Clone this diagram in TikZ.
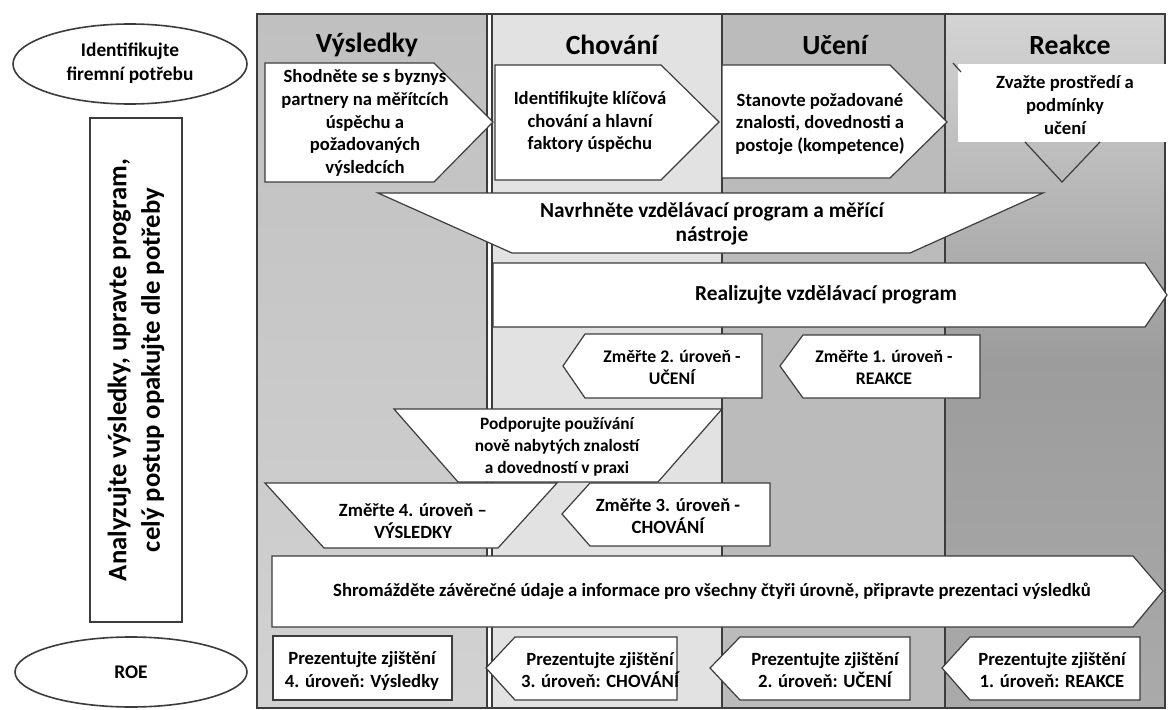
\documentclass[tikz,border=0pt]{standalone}
\usepackage{fontspec}
\setmainfont{Carlito}
\definecolor{lc}{HTML}{3C3C3C}
\definecolor{cA}{HTML}{C0C0C0}
\definecolor{cAb}{HTML}{D2D2D2}
\definecolor{cB}{HTML}{E2E2E2}
\definecolor{cC}{HTML}{BBBBBB}
\definecolor{cDt}{HTML}{D4D4D4}
\definecolor{cDm}{HTML}{9C9C9C}
\definecolor{cDb}{HTML}{AAAAAA}
\begin{document}
\begin{tikzpicture}[x=0.75pt,y=-0.75pt,
  box/.style={draw=lc, fill=white, line width=0.9pt, line join=miter},
  frame/.style={draw=lc, line width=0.9pt},
  txt/.style={font=\bfseries\fontsize{14}{17}\selectfont, align=center, inner sep=0pt},
  bigtxt/.style={txt, font=\bfseries\fontsize{16}{18}\selectfont},
  smalltxt/.style={txt, font=\bfseries\fontsize{13.3}{16.5}\selectfont},
  hdr/.style={font=\bfseries\fontsize{20.8}{24}\selectfont, inner sep=0pt},
  side/.style={font=\bfseries\fontsize{14.5}{18}\selectfont, align=center, inner sep=0pt}]
\useasboundingbox (0,0) rectangle (1168,710);
\fill[white] (0,0) rectangle (1168,710);
% columns
\shade[top color=cA, bottom color=cAb] (257,14) rectangle (487,708);
\fill[cB] (492,14) rectangle (722,708);
\fill[cC] (722,14) rectangle (945,708);
\shade[top color=cDt, bottom color=cDb, middle color=cDm] (945,14) rectangle (1165,708);
\draw[frame] (257,14) rectangle (1165,708);
\draw[frame] (487,14) -- (487,708) (492,14) -- (492,708) (722,14) -- (722,708) (945,14) -- (945,708);
% headers
\node[hdr] (h1) at (367,45) {Výsledky};
\node[hdr] (h2) at (612,45) {Chování};
\node[hdr] (h3) at (835,45) {Učení};
\node[hdr] (h4) at (1070,45) {Reakce};
% top boxes
\draw[box] (265,63) -- (434,63) -- (493,122) -- (434,182) -- (265,182) -- cycle;
\node[txt] (t1) at (365,123) {Shodněte se s byznys\\partnery na měřítcích\\úspěchu a\\požadovaných\\výsledcích};
\draw[box] (495,65) -- (661,65) -- (719,122) -- (661,180) -- (495,180) -- cycle;
\node[txt] (t2) at (590,122) {Identifikujte klíčová\\chování a hlavní\\faktory úspěchu};
\draw[box] (722,65) -- (890,65) -- (947,122) -- (890,178) -- (722,178) -- cycle;
\node[txt] (t3) at (820,124) {Stanovte požadované\\znalosti, dovednosti a\\postoje (kompetence)};
\fill[white] (958,64) rectangle (1168,142);
\draw[frame] (953,63) -- (961,72);
\draw[frame] (1025,142) -- (1062,182) -- (1100,142);
\node[txt] (t4) at (1065,105) {Zvažte prostředí a\\podmínky\\učení};
% middle
\draw[box] (378,193) -- (1043,193) -- (910,253) -- (512,253) -- cycle;
\node[bigtxt] (t5) at (712,224) {Navrhněte vzdělávací program a měřící\\nástroje};
\draw[box] (493,263) -- (1145,263) -- (1167,295) -- (1145,327) -- (493,327) -- cycle;
\node[bigtxt] (t6) at (826,295) {Realizujte vzdělávací program};
\draw[box] (585,334) -- (762,334) -- (762,398) -- (585,398) -- (563,366) -- cycle;
\node[smalltxt] (t7) at (672,367) {Změřte 2. úroveň -\\UČENÍ};
\draw[box] (803,335) -- (980,335) -- (980,398) -- (803,398) -- (780,366) -- cycle;
\node[smalltxt] (t8) at (884,367) {Změřte 1. úroveň -\\REAKCE};
\draw[box] (394,409) -- (722,409) -- (658,482) -- (458,482) -- cycle;
\node[txt, font=\bfseries\fontsize{13}{16.5}\selectfont] (t9) at (557,447) {Podporujte používání\\nově nabytých znalostí\\a dovedností v praxi};
\draw[box] (265,483) -- (557,483) -- (498,548) -- (324,548) -- cycle;
\node[txt] (t10) at (413,521) {Změřte 4. úroveň –\\VÝSLEDKY};
\draw[box] (590,483) -- (770,483) -- (770,546) -- (590,546) -- (562,514) -- cycle;
\node[txt] (t11) at (668,516) {Změřte 3. úroveň -\\CHOVÁNÍ};
\draw[box] (272,556) -- (1133,556) -- (1163,591) -- (1133,627) -- (272,627) -- cycle;
\node[txt] (t12) at (712,591) {Shromážděte závěrečné údaje a informace pro všechny čtyři úrovně, připravte prezentaci výsledků};
% bottom
\draw[box] (273,636) rectangle (452,700);
\node[txt] (t13) at (362,671) {Prezentujte zjištění\\4. úroveň: Výsledky};
\draw[box] (515,637) -- (677,637) -- (677,700) -- (515,700) -- (486,668) -- cycle;
\node[txt] (t14) at (600,670) {Prezentujte zjištění\\3. úroveň: CHOVÁNÍ};
\draw[box] (740,637) -- (910,637) -- (910,700) -- (740,700) -- (710,668) -- cycle;
\node[txt] (t15) at (825,670) {Prezentujte zjištění\\2. úroveň: UČENÍ};
\draw[box] (970,637) -- (1140,637) -- (1140,700) -- (970,700) -- (942,668) -- cycle;
\node[txt] (t16) at (1052,670) {Prezentujte zjištění\\1. úroveň: REAKCE};
% left side
\draw[frame, line width=1.2pt] (130,64) ellipse [x radius=117, y radius=40];
\node[side] (l1) at (130,63) {Identifikujte\\firemní potřebu};
\draw[frame] (90,118) rectangle (182,622);
\node[side, font=\bfseries\fontsize{20}{25}\selectfont, rotate=90] (l2) at (136,370) {Analyzujte výsledky, upravte program,\\celý postup opakujte dle potřeby};
\draw[frame, line width=1.2pt] (131,672) ellipse [x radius=116, y radius=35];
\node[side] (l3) at (131,672) {ROE};
\end{tikzpicture}
\end{document}
